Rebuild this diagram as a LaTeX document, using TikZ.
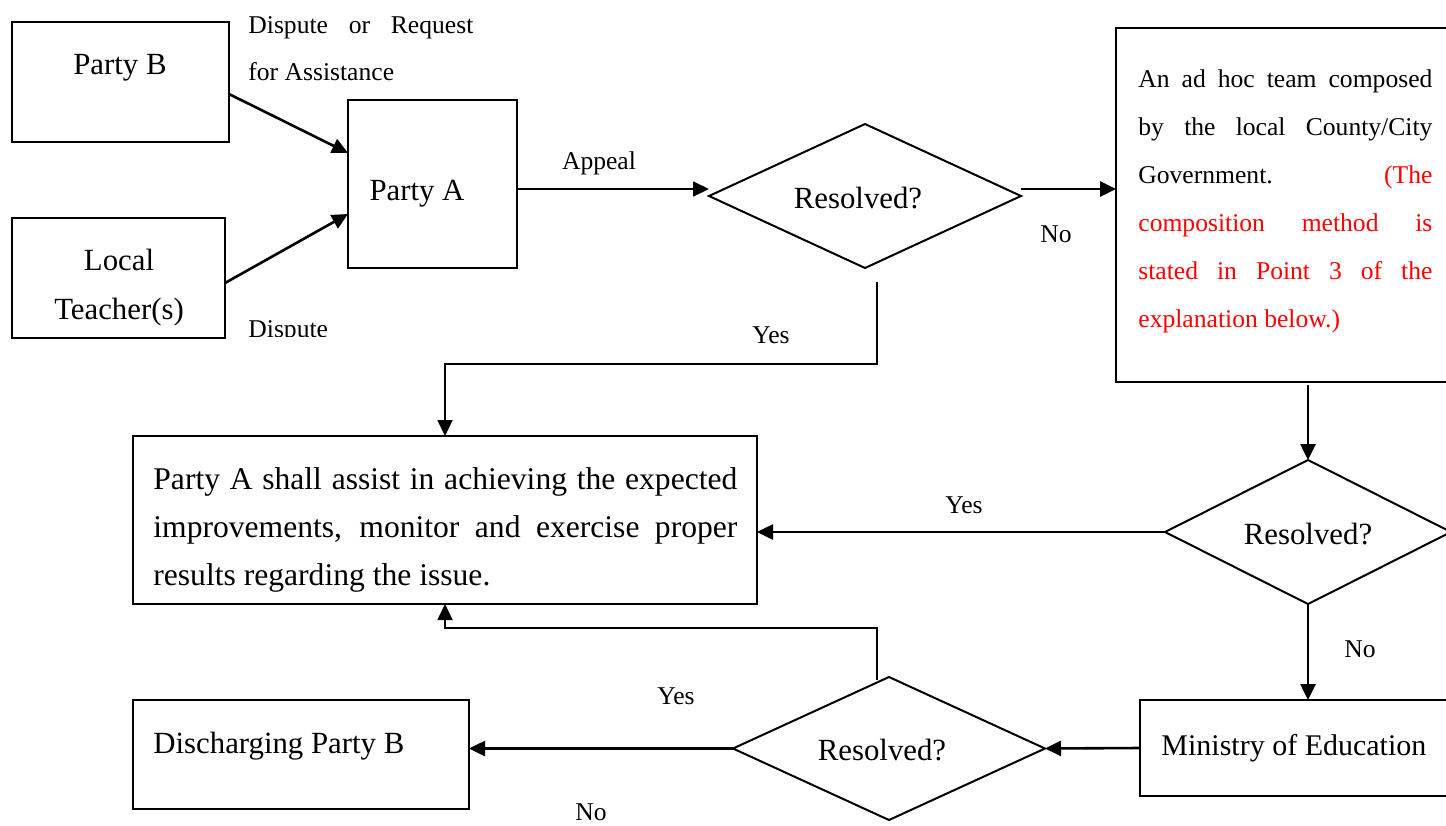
\documentclass[tikz,border=0pt]{standalone}
\usepackage{fontspec}
\setmainfont{Liberation Serif}
\usetikzlibrary{arrows.meta,shapes.geometric}
\definecolor{redtxt}{RGB}{255,0,0}
\begin{document}
\begin{tikzpicture}[x=0.5pt,y=-0.5pt,
  box/.style={draw, line width=1pt, rectangle, inner sep=0pt, outer sep=0pt},
  dia/.style={draw, line width=1pt, diamond, inner sep=0pt, outer sep=0pt},
  arr/.style={line width=1.3pt, -{Triangle[length=8pt,width=7.5pt]}},
  tarr/.style={line width=0.9pt, -{Triangle[length=8pt,width=7.5pt]}},
  main/.style={font=\fontsize{15.4}{24.5}\selectfont, inner sep=0pt},
  lab/.style={font=\fontsize{12.8}{23.5}\selectfont, inner sep=0pt}]
\useasboundingbox (0,0) rectangle (1446,825);
\clip (0,0) rectangle (1446,825);
% boxes
\node[box, minimum width=108.5pt, minimum height=60pt] (pb) at (120.5,82) {};
\node[box, minimum width=106.5pt, minimum height=60pt] (lt) at (118.5,278) {};
\node[box, minimum width=84.5pt, minimum height=84pt] (pa) at (432.5,184) {};
\node[box, minimum width=172pt, minimum height=177pt] (rb) at (1288,205) {};
\node[box, minimum width=312pt, minimum height=84pt] (bb) at (445,520) {};
\node[box, minimum width=160pt, minimum height=48pt] (mb) at (1300,748) {};
\node[box, minimum width=168pt, minimum height=54.5pt] (db) at (301,754.5) {};
% diamonds
\node[dia, minimum width=156pt, minimum height=72pt] (d1) at (865,196) {};
\node[dia, minimum width=143pt, minimum height=72pt] (d2) at (1308,532) {};
\node[dia, minimum width=156pt, minimum height=71.5pt] (d3) at (889,748.5) {};
% texts
\node[main] (tpb) at (120,68) {Party B};
\node[main, align=center] (tlt) at (119,288) {Local\\Teacher(s)};
\node[main] (tpa) at (417,194) {Party A};
\node[main] (td1) at (858,198) {Resolved?};
\node[main] (td2) at (1308,534) {Resolved?};
\node[main] (td3) at (882,750) {Resolved?};
\node[main, anchor=west, font=\fontsize{15}{24}\selectfont] (tmb) at (1161,748) {Ministry of Education};
\node[main, anchor=west] (tdb) at (153,746) {Discharging Party B};
\node[inner sep=0pt, anchor=base west, text width=292pt, align=justify,
  font=\fontsize{15.8}{24}\selectfont] (tbb) at (153,489)
  {Party A shall assist in achieving the expected\linebreak improvements, monitor and exercise proper\linebreak results regarding the issue.};
\node[inner sep=0pt, anchor=base west, text width=147pt, align=justify,
  font=\fontsize{12.8}{24}\selectfont] (trb) at (1138,87.5)
  {An ad hoc team composed\linebreak by the local County/City\linebreak Government. \textcolor{redtxt}{(The\linebreak composition method is\linebreak stated in Point 3 of the\linebreak explanation below.)}};
\node[lab, anchor=base west, text width=112.5pt, align=justify] (tdr) at (248,33.5)
  {Dispute or Request\linebreak for Assistance};
\begin{scope}
\clip (240,300) rectangle (345,336);
\node[lab, anchor=base west] (tdi) at (248,337) {Dispute};
\end{scope}
\node[lab] (tap) at (599,163) {Appeal};
\node[lab] (tn1) at (1056,234) {No};
\node[lab] (ty1) at (771,335) {Yes};
\node[lab] (ty2) at (964,505) {Yes};
\node[lab] (tn2) at (1360,649) {No};
\node[lab] (ty3) at (676,696) {Yes};
\node[lab] (tn3) at (591,812) {No};
% connectors
\draw[arr] ([yshift=-6pt]pb.east) -- ([yshift=15.5pt]pa.west);
\draw[arr] ([yshift=-2.5pt]lt.east) -- ([yshift=-15pt]pa.west);
\draw[tarr] ([yshift=-2.5pt]pa.east) -- ([yshift=-2.5pt]pa.east -| d1.west);
\draw[arr] ([yshift=3.5pt]d1.east) -- ([yshift=3.5pt]d1.east -| rb.west);
\draw[tarr] ([xshift=6pt,yshift=-7pt]d1.south) -- ++(0,82) -| (bb.north);
\draw[arr] ([yshift=-1.5pt]rb.south -| d2.north) -- (d2.north);
\draw[arr] (d2.west) -- (d2.west -| bb.east);
\draw[arr] (d2.south) -- (d2.south |- mb.north);
\draw[arr] (mb.west) -- (d3.east);
\draw[arr] (d3.west) -- (d3.west -| db.east);
\draw[tarr] ([xshift=-6pt,yshift=-1.5pt]d3.north) -- ++(0,-52) -| (bb.south);
\end{tikzpicture}
\end{document}
